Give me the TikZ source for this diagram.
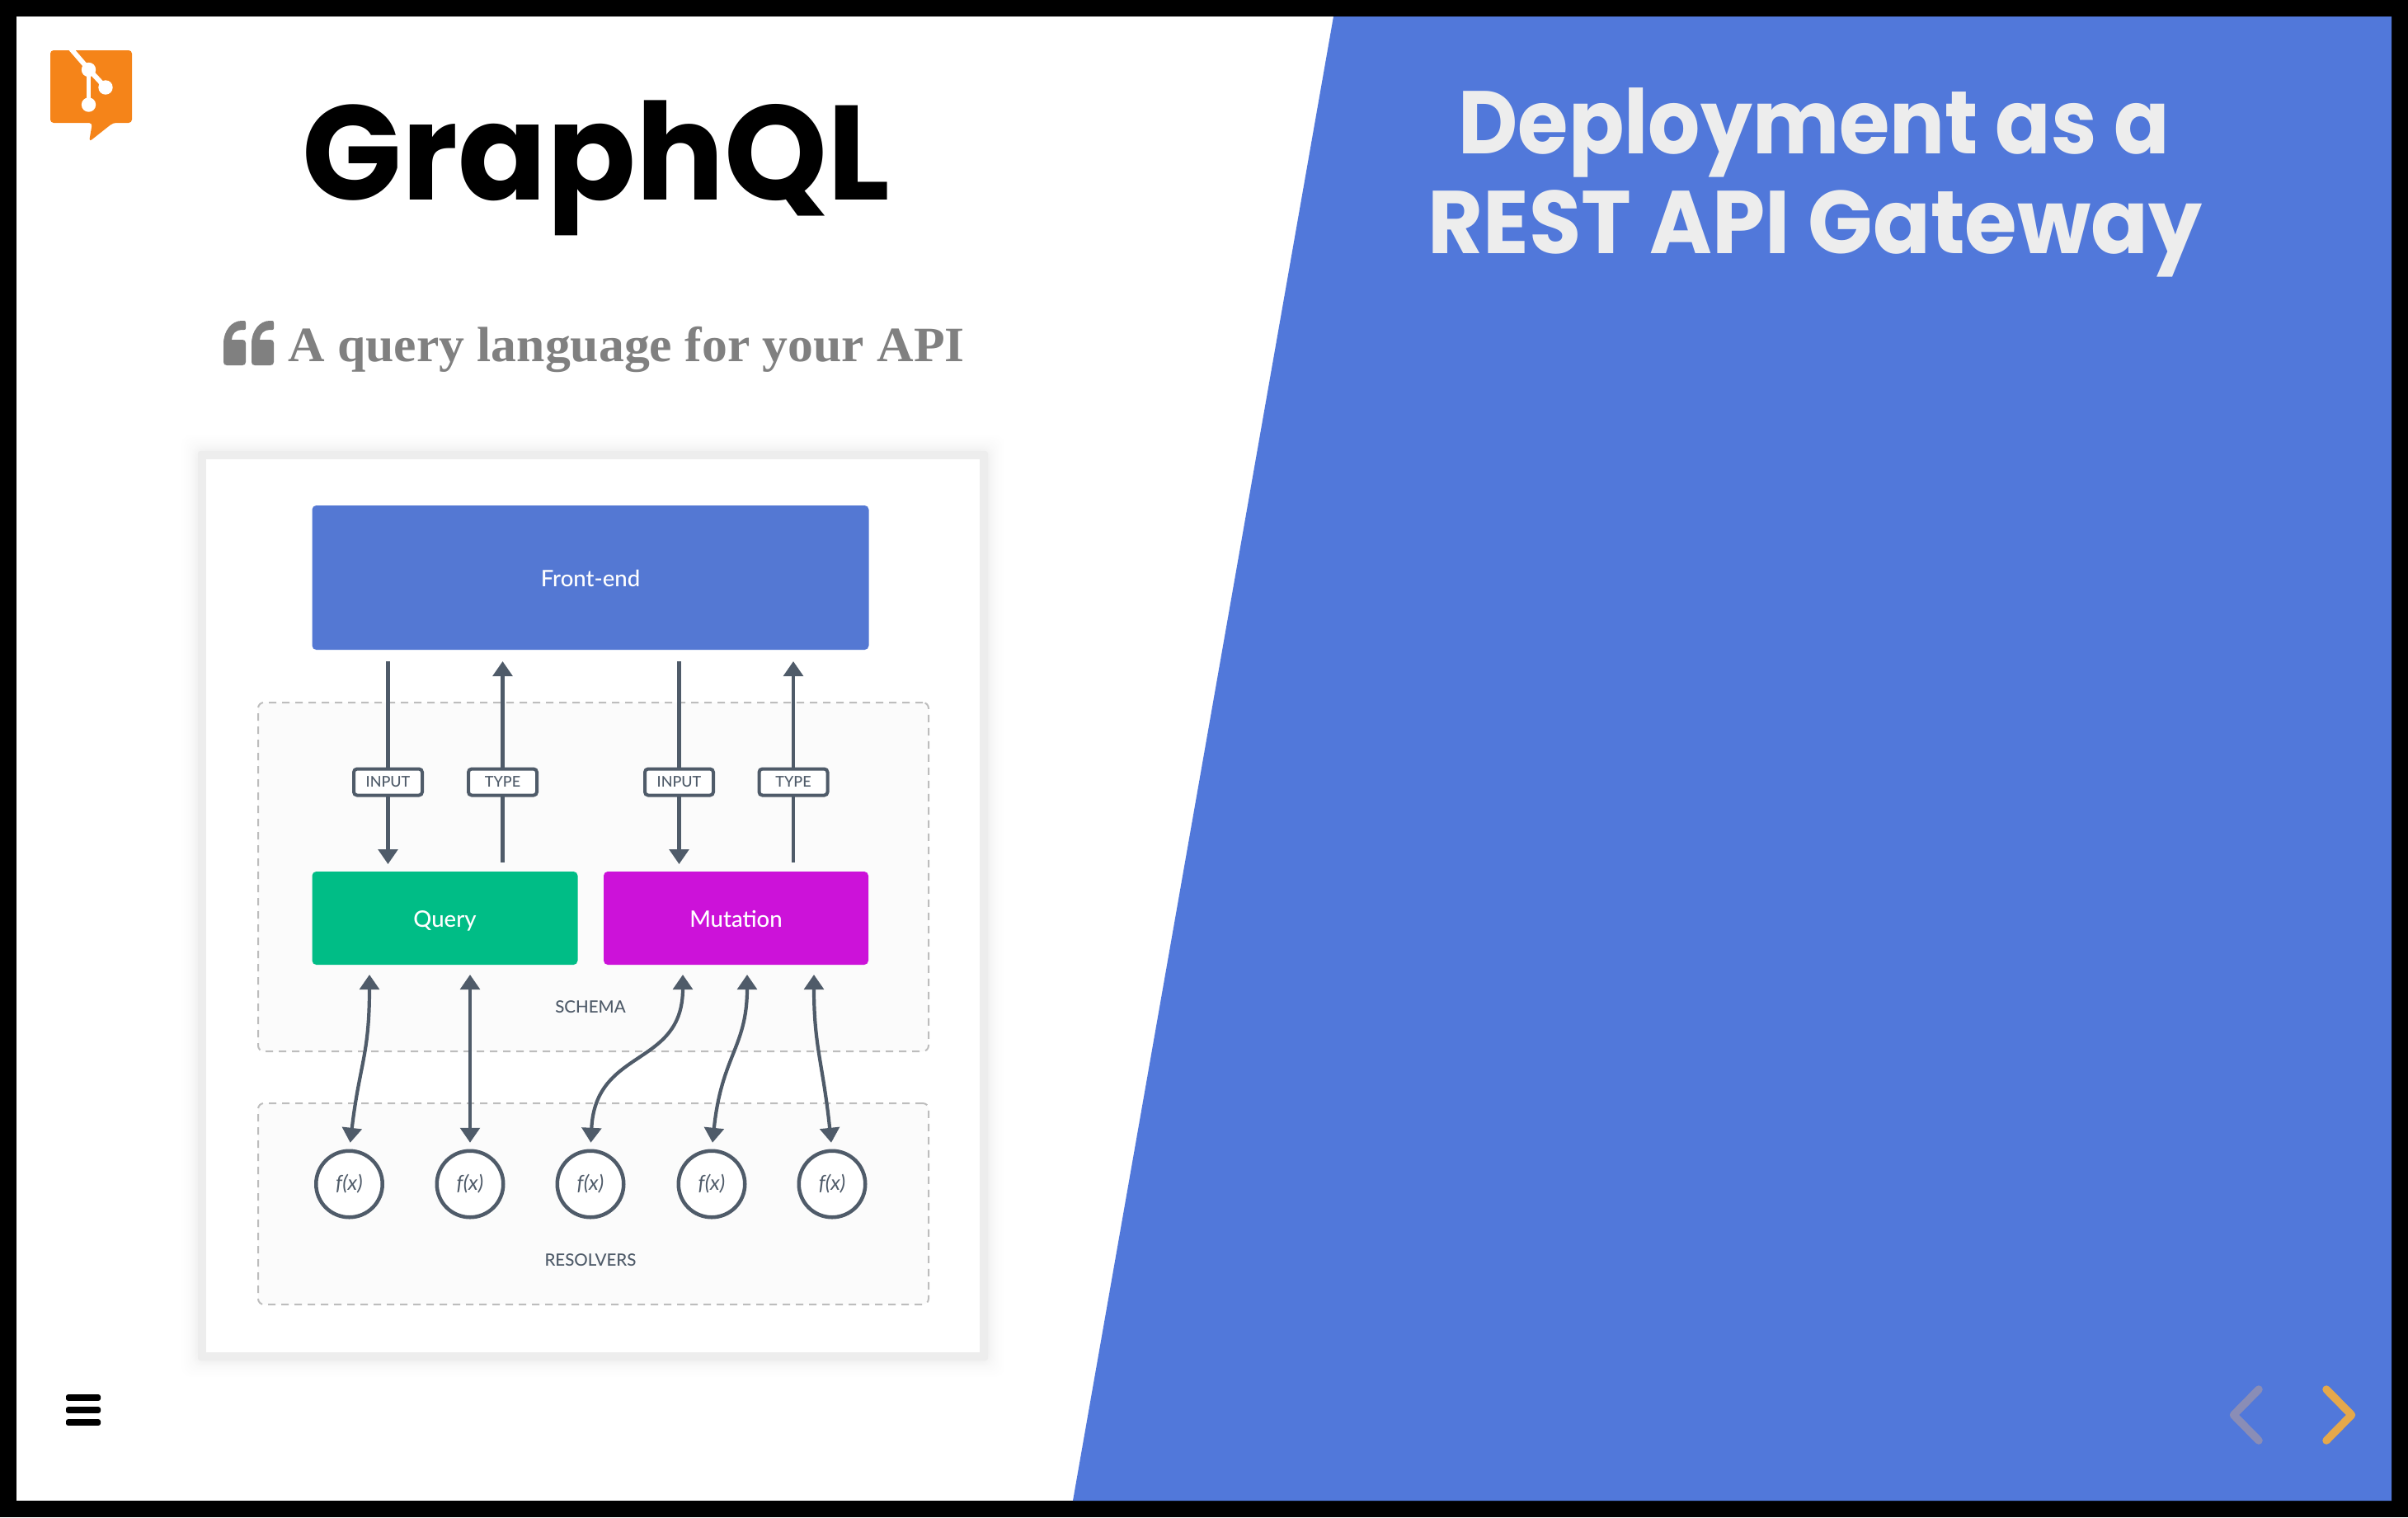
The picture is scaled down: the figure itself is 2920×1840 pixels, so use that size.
\documentclass[tikz,border=0pt]{standalone}
\usepackage{fontspec}
\usepackage{graphicx}
\usetikzlibrary{arrows.meta,shapes.geometric,positioning,calc}
\newfontfamily\latof{Lato Medium}
\newfontfamily\latoit{Lato Italic}
\newfontfamily\popf{Poppins}
\newfontfamily\serf{Liberation Serif}
\definecolor{slateink}{HTML}{4F5B69}
\definecolor{slideblue}{HTML}{5178DA}
\definecolor{fronte}{HTML}{5478D3}
\definecolor{queryc}{HTML}{00BD86}
\definecolor{mutc}{HTML}{CC12D9}
\definecolor{logoc}{HTML}{F58419}
\definecolor{dashc}{HTML}{BDBDBD}
\definecolor{panelc}{HTML}{FBFBFB}
\definecolor{navgrey}{HTML}{8A8DB6}
\definecolor{navamber}{HTML}{E5A84B}
\tikzset{
  x=1pt,y=-1pt,
  bluebox/.style={rectangle,rounded corners=5pt,fill=#1,text=white,inner sep=0pt,outer sep=0pt,text height=27pt,text depth=6pt,font=\latof\fontsize{27.5}{32}\selectfont},
  zone/.style={rectangle,rounded corners=7pt,draw=dashc,fill=panelc,line width=2pt,dash pattern=on 9pt off 7pt,inner sep=0pt},
  tagbox/.style={rectangle,rounded corners=4pt,draw=slateink,fill=white,line width=4pt,minimum width=83pt,minimum height=32pt,inner sep=0pt,outer sep=0pt,text=slateink,font=\latof\fontsize{18}{20}\selectfont},
  fxnode/.style={circle,draw=slateink,fill=white,line width=4.5pt,minimum size=80.5pt,inner sep=0pt,outer sep=0pt,text=slateink,font=\latoit\fontsize{25}{28}\selectfont},
  zonetext/.style={text=slateink,inner sep=0pt,font=\latof\fontsize{20.5}{24}\selectfont},
  conn/.style={draw=slateink,line width=4.2pt,-{Stealth[length=18pt,width=23.5pt,inset=0pt]}},
  plainconn/.style={draw=slateink,line width=4.2pt},
  both/.style={draw=slateink,line width=4.2pt,{Stealth[length=18pt,width=23.5pt,inset=0pt]}-{Stealth[length=18pt,width=23.5pt,inset=0pt]},shorten <=10pt,shorten >=12pt},
  chev/.style={line width=9.5pt,line cap=round,line join=round},
}
\begin{document}
\begin{tikzpicture}
\useasboundingbox (0,0) rectangle (2920,1840);
\fill[black] (0,0) rectangle (2920,1840);
\fill[white] (20,20) rectangle (2900,1820);
\fill[slideblue] (1617,20) -- (2900,20) -- (2900,1820) -- (1301,1820) -- cycle;

% logo
\fill[logoc,rounded corners=4pt] (61,61) -- (160,61) -- (160,149) -- (137,149) -- (108,172) -- (112,149) -- (61,149) -- cycle;
\draw[white,line width=6pt] (85,58) -- (107.5,84) -- (128,106);
\draw[white,line width=5pt] (107.5,84) -- (107.5,127);
\fill[white] (107.5,84.5) circle (8.7) (128,106) circle (8.7) (107.5,127) circle (8.7);

% titles
\node[anchor=base,inner sep=0pt] (title) at (723,242) {\popf\bfseries\fontsize{163}{170}\selectfont\scalebox{0.974}[1]{GraphQL}};
\node[anchor=base,inner sep=0pt,text=black!7] (dep1) at (2200,186) {\popf\bfseries\fontsize{108}{120}\selectfont\scalebox{0.92}[1]{Deployment as a}};
\node[anchor=base,inner sep=0pt,text=black!7] (dep2) at (2201,307) {\popf\bfseries\fontsize{108}{120}\selectfont\scalebox{0.953}[1]{REST API Gateway}};
\node[anchor=base west,inner sep=0pt,text=black!50] (quote) at (349,438) {\serf\bfseries\fontsize{60}{66}\selectfont\scalebox{1.028}[1]{A query language for your API}};
\foreach \qx in {271,305}{
  \fill[black!50,shift={(\qx,389)}] (0,28) .. controls (0,12) and (10,0) .. (22,0) -- (25,0) .. controls (26.5,0) and (27,1) .. (27,3) -- (27,9) .. controls (27,10.5) and (26.5,11) .. (25,11) -- (22,11) .. controls (15,11) and (10,16) .. (10,23) -- (23,23) .. controls (25.5,23) and (27,24.5) .. (27,27) -- (27,50) .. controls (27,52.5) and (25.5,54) .. (23,54) -- (4,54) .. controls (1.5,54) and (0,52.5) .. (0,50) -- cycle;
}

% card with shadow
\foreach \e in {30,27,24,22,20,18,17,16,15,14,13,12,11}{
  \fill[black,opacity=0.0055,rounded corners=12pt] (250-\e,557-\e) rectangle (1188+\e,1640+\e);
}
\fill[black!7,rounded corners=3pt] (240,547) rectangle (1198,1650);
\fill[white] (250,557) rectangle (1188,1640);

% zones
\node[zone,minimum width=813pt,minimum height=423pt] (schemazone) at (719.5,1063.5) {};
\node[zone,minimum width=813pt,minimum height=244pt] (reszone) at (719.5,1460) {};
\node[zonetext] (schemalabel) at (716,1221) {SCHEMA};
\node[zonetext] (reslabel) at (716,1528) {RESOLVERS};

% boxes
\node[bluebox=fronte,minimum width=675pt,minimum height=175pt] (fe) at (716,700.5) {Front-end};
\node[bluebox=queryc,minimum width=322pt,minimum height=113pt] (q) at (539.5,1113.5) {Query};
\node[bluebox=mutc,minimum width=321pt,minimum height=113pt] (m) at (892.5,1113.5) {Mutation};

% tags
\node[tagbox] (t1) at (470.5,948.5) {INPUT};
\node[tagbox] (t2) at (609.5,948.5) {TYPE};
\node[tagbox] (t3) at (823.5,948.5) {INPUT};
\node[tagbox] (t4) at (962,948.5) {TYPE};

% connectors through tags
\draw[plainconn,shorten <=14pt] (fe.south -| t1) -- (t1.north);
\draw[conn,shorten >=9pt] (t1.south) -- (q.north -| t1);
\draw[plainconn,shorten <=11pt] (q.north -| t2) -- (t2.south);
\draw[conn,shorten >=14pt] (t2.north) -- (fe.south -| t2);
\draw[plainconn,shorten <=14pt] (fe.south -| t3) -- (t3.north);
\draw[conn,shorten >=9pt] (t3.south) -- (m.north -| t3);
\draw[plainconn,shorten <=11pt] (m.north -| t4) -- (t4.south);
\draw[conn,shorten >=14pt] (t4.north) -- (fe.south -| t4);

% resolvers
\node[fxnode] (f1) at (423.5,1436) {f(x)};
\node[fxnode] (f2) at (570,1436) {f(x)};
\node[fxnode] (f3) at (716,1436) {f(x)};
\node[fxnode] (f4) at (863,1436) {f(x)};
\node[fxnode] (f5) at (1009,1436) {f(x)};

\coordinate (qa) at (448,1170);
\coordinate (qb) at (570,1170);
\coordinate (ma) at (828,1170);
\coordinate (mb) at (906,1170);
\coordinate (mc) at (987,1170);
\draw[both] (f1.north) .. controls (436,1290) and (448,1280) .. (qa);
\draw[both] (f2.north) -- (qb);
\draw[both] (f3.north) .. controls (722,1270) and (828,1295) .. (ma);
\draw[both] (f4.north) .. controls (875,1280) and (906,1270) .. (mb);
\draw[both] (f5.north) .. controls (998,1290) and (987,1270) .. (mc);

% hamburger
\foreach \hy in {1695,1710,1725}{
  \fill[black,rounded corners=2.5pt] (80,\hy-3.8) rectangle (122,\hy+3.8);
}

% nav chevrons
\draw[chev,draw=navgrey] (2739,1685) -- (2708.5,1716) -- (2739,1747);
\draw[chev,draw=navamber] (2821,1685) -- (2851.5,1716) -- (2821,1747);
\end{tikzpicture}
\end{document}
